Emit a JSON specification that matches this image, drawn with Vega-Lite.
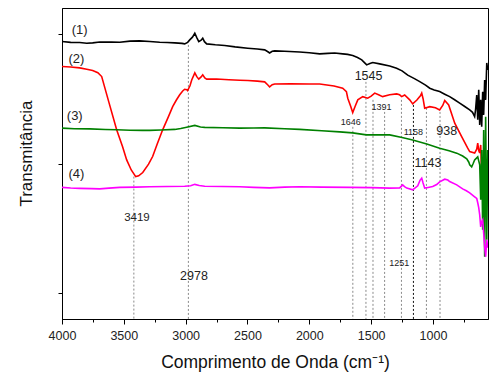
{
  "$schema": "https://vega.github.io/schema/vega-lite/v6.json",
  "width": 426,
  "height": 311,
  "autosize": {"type": "none"},
  "padding": {"left": 62, "top": 8, "right": 1, "bottom": 55},
  "background": "white",
  "config": {
    "view": {"stroke": "black", "strokeWidth": 1},
    "font": "Liberation Sans",
    "axis": {"domainColor": "black", "tickColor": "black", "labelColor": "#222", "titleColor": "#111", "grid": false, "titleFontWeight": "normal", "labelFont": "Liberation Sans", "titleFont": "Liberation Sans"}
  },
  "datasets": {
    "spectra": [
      {"s":"1","w":4000,"t":1.941},{"s":"1","w":3930,"t":1.935},{"s":"1","w":3857,"t":1.934},{"s":"1","w":3800,"t":1.928},{"s":"1","w":3752,"t":1.931},{"s":"1","w":3695,"t":1.938},{"s":"1","w":3600,"t":1.937},{"s":"1","w":3533,"t":1.936},{"s":"1","w":3450,"t":1.944},{"s":"1","w":3372,"t":1.946},{"s":"1","w":3290,"t":1.941},{"s":"1","w":3210,"t":1.936},{"s":"1","w":3150,"t":1.934},{"s":"1","w":3088,"t":1.931},{"s":"1","w":3030,"t":1.927},{"s":"1","w":3008,"t":1.923},{"s":"1","w":2984,"t":1.935},{"s":"1","w":2967,"t":1.954},{"s":"1","w":2945,"t":1.975},{"s":"1","w":2926,"t":2.005},{"s":"1","w":2910,"t":1.972},{"s":"1","w":2894,"t":1.941},{"s":"1","w":2875,"t":1.952},{"s":"1","w":2862,"t":1.967},{"s":"1","w":2848,"t":1.94},{"s":"1","w":2830,"t":1.923},{"s":"1","w":2760,"t":1.916},{"s":"1","w":2684,"t":1.911},{"s":"1","w":2600,"t":1.9},{"s":"1","w":2498,"t":1.89},{"s":"1","w":2420,"t":1.884},{"s":"1","w":2361,"t":1.877},{"s":"1","w":2335,"t":1.862},{"s":"1","w":2321,"t":1.853},{"s":"1","w":2300,"t":1.866},{"s":"1","w":2280,"t":1.869},{"s":"1","w":2200,"t":1.866},{"s":"1","w":2078,"t":1.861},{"s":"1","w":2000,"t":1.855},{"s":"1","w":1916,"t":1.846},{"s":"1","w":1850,"t":1.85},{"s":"1","w":1795,"t":1.853},{"s":"1","w":1730,"t":1.846},{"s":"1","w":1690,"t":1.842},{"s":"1","w":1649,"t":1.833},{"s":"1","w":1610,"t":1.818},{"s":"1","w":1576,"t":1.8},{"s":"1","w":1550,"t":1.775},{"s":"1","w":1536,"t":1.761},{"s":"1","w":1510,"t":1.772},{"s":"1","w":1487,"t":1.779},{"s":"1","w":1431,"t":1.769},{"s":"1","w":1350,"t":1.753},{"s":"1","w":1294,"t":1.735},{"s":"1","w":1250,"t":1.715},{"s":"1","w":1204,"t":1.682},{"s":"1","w":1150,"t":1.655},{"s":"1","w":1107,"t":1.632},{"s":"1","w":1060,"t":1.605},{"s":"1","w":1026,"t":1.581},{"s":"1","w":990,"t":1.568},{"s":"1","w":946,"t":1.555},{"s":"1","w":905,"t":1.535},{"s":"1","w":865,"t":1.516},{"s":"1","w":825,"t":1.492},{"s":"1","w":784,"t":1.466},{"s":"1","w":740,"t":1.438},{"s":"1","w":703,"t":1.414},{"s":"1","w":680,"t":1.395},{"s":"1","w":663,"t":1.362},{"s":"1","w":655,"t":1.42},{"s":"1","w":646,"t":1.529},{"s":"1","w":638,"t":1.337},{"s":"1","w":630,"t":1.568},{"s":"1","w":622,"t":1.298},{"s":"1","w":614,"t":1.491},{"s":"1","w":606,"t":1.283},{"s":"1","w":598,"t":1.553},{"s":"1","w":590,"t":1.375},{"s":"1","w":582,"t":1.645},{"s":"1","w":574,"t":1.491},{"s":"1","w":565,"t":1.776},{"s":"1","w":557,"t":1.722},

      {"s":"2","w":4000,"t":1.748},{"s":"2","w":3930,"t":1.745},{"s":"2","w":3857,"t":1.738},{"s":"2","w":3800,"t":1.728},{"s":"2","w":3752,"t":1.717},{"s":"2","w":3710,"t":1.7},{"s":"2","w":3679,"t":1.671},{"s":"2","w":3620,"t":1.47},{"s":"2","w":3558,"t":1.26},{"s":"2","w":3510,"t":1.13},{"s":"2","w":3477,"t":1.028},{"s":"2","w":3440,"t":0.95},{"s":"2","w":3404,"t":0.899},{"s":"2","w":3380,"t":0.905},{"s":"2","w":3347,"t":0.93},{"s":"2","w":3300,"t":0.995},{"s":"2","w":3267,"t":1.054},{"s":"2","w":3230,"t":1.15},{"s":"2","w":3186,"t":1.26},{"s":"2","w":3140,"t":1.36},{"s":"2","w":3105,"t":1.439},{"s":"2","w":3075,"t":1.49},{"s":"2","w":3048,"t":1.53},{"s":"2","w":3024,"t":1.56},{"s":"2","w":3008,"t":1.573},{"s":"2","w":2990,"t":1.57},{"s":"2","w":2984,"t":1.563},{"s":"2","w":2965,"t":1.6},{"s":"2","w":2951,"t":1.645},{"s":"2","w":2926,"t":1.699},{"s":"2","w":2910,"t":1.67},{"s":"2","w":2894,"t":1.651},{"s":"2","w":2875,"t":1.668},{"s":"2","w":2862,"t":1.684},{"s":"2","w":2845,"t":1.66},{"s":"2","w":2830,"t":1.651},{"s":"2","w":2750,"t":1.652},{"s":"2","w":2650,"t":1.646},{"s":"2","w":2563,"t":1.642},{"s":"2","w":2498,"t":1.64},{"s":"2","w":2420,"t":1.636},{"s":"2","w":2361,"t":1.63},{"s":"2","w":2335,"t":1.606},{"s":"2","w":2321,"t":1.591},{"s":"2","w":2300,"t":1.608},{"s":"2","w":2280,"t":1.614},{"s":"2","w":2150,"t":1.616},{"s":"2","w":2000,"t":1.614},{"s":"2","w":1916,"t":1.614},{"s":"2","w":1800,"t":1.598},{"s":"2","w":1730,"t":1.581},{"s":"2","w":1700,"t":1.555},{"s":"2","w":1689,"t":1.504},{"s":"2","w":1665,"t":1.44},{"s":"2","w":1649,"t":1.393},{"s":"2","w":1630,"t":1.44},{"s":"2","w":1608,"t":1.491},{"s":"2","w":1568,"t":1.516},{"s":"2","w":1528,"t":1.504},{"s":"2","w":1500,"t":1.52},{"s":"2","w":1471,"t":1.543},{"s":"2","w":1440,"t":1.53},{"s":"2","w":1407,"t":1.516},{"s":"2","w":1350,"t":1.53},{"s":"2","w":1294,"t":1.537},{"s":"2","w":1270,"t":1.53},{"s":"2","w":1253,"t":1.516},{"s":"2","w":1229,"t":1.529},{"s":"2","w":1188,"t":1.491},{"s":"2","w":1164,"t":1.46},{"s":"2","w":1130,"t":1.49},{"s":"2","w":1100,"t":1.525},{"s":"2","w":1091,"t":1.543},{"s":"2","w":1080,"t":1.5},{"s":"2","w":1067,"t":1.427},{"s":"2","w":1026,"t":1.439},{"s":"2","w":980,"t":1.43},{"s":"2","w":946,"t":1.414},{"s":"2","w":920,"t":1.45},{"s":"2","w":905,"t":1.486},{"s":"2","w":873,"t":1.452},{"s":"2","w":824,"t":1.311},{"s":"2","w":768,"t":1.208},{"s":"2","w":719,"t":1.118},{"s":"2","w":703,"t":1.092},{"s":"2","w":663,"t":1.08},{"s":"2","w":646,"t":1.11},{"s":"2","w":638,"t":1.157},{"s":"2","w":630,"t":1.1},{"s":"2","w":622,"t":1.081},{"s":"2","w":614,"t":1.143},{"s":"2","w":606,"t":0.912},{"s":"2","w":598,"t":0.72},{"s":"2","w":590,"t":1.028},{"s":"2","w":582,"t":0.697},{"s":"2","w":574,"t":0.95},{"s":"2","w":565,"t":0.85},

      {"s":"3","w":4000,"t":1.273},{"s":"3","w":3900,"t":1.268},{"s":"3","w":3776,"t":1.267},{"s":"3","w":3650,"t":1.262},{"s":"3","w":3558,"t":1.26},{"s":"3","w":3450,"t":1.257},{"s":"3","w":3350,"t":1.256},{"s":"3","w":3291,"t":1.256},{"s":"3","w":3200,"t":1.259},{"s":"3","w":3088,"t":1.263},{"s":"3","w":3040,"t":1.27},{"s":"3","w":2992,"t":1.28},{"s":"3","w":2926,"t":1.294},{"s":"3","w":2880,"t":1.282},{"s":"3","w":2846,"t":1.279},{"s":"3","w":2700,"t":1.276},{"s":"3","w":2563,"t":1.273},{"s":"3","w":2450,"t":1.274},{"s":"3","w":2361,"t":1.275},{"s":"3","w":2200,"t":1.268},{"s":"3","w":2078,"t":1.263},{"s":"3","w":1900,"t":1.253},{"s":"3","w":1754,"t":1.244},{"s":"3","w":1650,"t":1.236},{"s":"3","w":1539,"t":1.221},{"s":"3","w":1450,"t":1.222},{"s":"3","w":1350,"t":1.221},{"s":"3","w":1250,"t":1.2},{"s":"3","w":1164,"t":1.182},{"s":"3","w":1050,"t":1.15},{"s":"3","w":946,"t":1.118},{"s":"3","w":870,"t":1.098},{"s":"3","w":808,"t":1.08},{"s":"3","w":760,"t":1.058},{"s":"3","w":727,"t":1.036},{"s":"3","w":710,"t":1.01},{"s":"3","w":703,"t":0.99},{"s":"3","w":687,"t":0.974},{"s":"3","w":675,"t":1.0},{"s":"3","w":663,"t":1.028},{"s":"3","w":650,"t":1.04},{"s":"3","w":638,"t":1.051},{"s":"3","w":630,"t":1.02},{"s":"3","w":622,"t":0.99},{"s":"3","w":614,"t":0.72},{"s":"3","w":606,"t":1.105},{"s":"3","w":598,"t":0.488},{"s":"3","w":590,"t":1.259},{"s":"3","w":582,"t":0.28},{"s":"3","w":574,"t":1.36},{"s":"3","w":565,"t":0.411},{"s":"3","w":557,"t":1.105},

      {"s":"4","w":4000,"t":0.816},{"s":"4","w":3930,"t":0.811},{"s":"4","w":3857,"t":0.808},{"s":"4","w":3760,"t":0.806},{"s":"4","w":3695,"t":0.804},{"s":"4","w":3620,"t":0.81},{"s":"4","w":3533,"t":0.816},{"s":"4","w":3400,"t":0.818},{"s":"4","w":3291,"t":0.82},{"s":"4","w":3150,"t":0.822},{"s":"4","w":3008,"t":0.824},{"s":"4","w":2960,"t":0.828},{"s":"4","w":2926,"t":0.839},{"s":"4","w":2890,"t":0.83},{"s":"4","w":2846,"t":0.824},{"s":"4","w":2700,"t":0.822},{"s":"4","w":2563,"t":0.82},{"s":"4","w":2450,"t":0.816},{"s":"4","w":2321,"t":0.812},{"s":"4","w":2200,"t":0.818},{"s":"4","w":2078,"t":0.82},{"s":"4","w":1900,"t":0.818},{"s":"4","w":1673,"t":0.816},{"s":"4","w":1500,"t":0.814},{"s":"4","w":1350,"t":0.81},{"s":"4","w":1269,"t":0.812},{"s":"4","w":1245,"t":0.835},{"s":"4","w":1230,"t":0.822},{"s":"4","w":1212,"t":0.81},{"s":"4","w":1164,"t":0.797},{"s":"4","w":1123,"t":0.828},{"s":"4","w":1105,"t":0.87},{"s":"4","w":1091,"t":0.887},{"s":"4","w":1080,"t":0.85},{"s":"4","w":1067,"t":0.81},{"s":"4","w":1040,"t":0.815},{"s":"4","w":1002,"t":0.822},{"s":"4","w":970,"t":0.838},{"s":"4","w":946,"t":0.858},{"s":"4","w":905,"t":0.879},{"s":"4","w":880,"t":0.872},{"s":"4","w":865,"t":0.861},{"s":"4","w":808,"t":0.835},{"s":"4","w":760,"t":0.804},{"s":"4","w":730,"t":0.79},{"s":"4","w":703,"t":0.774},{"s":"4","w":663,"t":0.743},{"s":"4","w":646,"t":0.73},{"s":"4","w":638,"t":0.697},{"s":"4","w":630,"t":0.66},{"s":"4","w":622,"t":0.604},{"s":"4","w":614,"t":0.511},{"s":"4","w":606,"t":0.55},{"s":"4","w":598,"t":0.565},{"s":"4","w":590,"t":0.465},{"s":"4","w":582,"t":0.357},{"s":"4","w":574,"t":0.28},{"s":"4","w":565,"t":0.411},{"s":"4","w":557,"t":0.35}
    ],
    "peaks": [
      {"w":3419,"top":0.899,"kind":"light"},
      {"w":2978,"top":1.915,"kind":"light"},
      {"w":1648,"top":1.283,"kind":"light"},
      {"w":1542,"top":1.63,"kind":"light"},
      {"w":1485,"top":1.491,"kind":"light"},
      {"w":1391,"top":1.398,"kind":"light"},
      {"w":1255,"top":1.491,"kind":"light"},
      {"w":1158,"top":1.452,"kind":"dark"},
      {"w":1053,"top":1.429,"kind":"light"},
      {"w":943,"top":1.398,"kind":"light"}
    ],
    "labels": [
      {"text":"(1)","w":3857,"v":2.031,"kind":"curve"},
      {"text":"(2)","w":3884,"v":1.809,"kind":"curve"},
      {"text":"(3)","w":3897,"v":1.368,"kind":"curve"},
      {"text":"(4)","w":3884,"v":0.92,"kind":"curve"},
      {"text":"3419","w":3394,"v":0.581,"kind":"mid"},
      {"text":"2978","w":2933,"v":0.128,"kind":"big"},
      {"text":"1545","w":1521,"v":1.676,"kind":"big"},
      {"text":"938","w":889,"v":1.252,"kind":"big"},
      {"text":"1143","w":1040,"v":1.003,"kind":"big"},
      {"text":"1646","w":1664,"v":1.324,"kind":"small"},
      {"text":"1391","w":1417,"v":1.435,"kind":"small"},
      {"text":"1158","w":1158,"v":1.246,"kind":"small"},
      {"text":"1251","w":1272,"v":0.236,"kind":"small"}
    ]
  },
  "encoding": {
    "x": {
      "field": "w", "type": "quantitative",
      "scale": {"domain": [555, 4000], "reverse": true, "nice": false, "zero": false},
      "axis": {
        "title": "Comprimento de Onda (cm⁻¹)",
        "values": [4000, 3750, 3500, 3250, 3000, 2750, 2500, 2250, 2000, 1750, 1500, 1250, 1000, 750],
        "labelExpr": "datum.value % 500 === 0 ? datum.value : ''",
        "tickSize": {"condition": {"test": "datum.value % 500 === 0", "value": 5}, "value": 3},
        "labelFontSize": 12.5,
        "labelPadding": 5,
        "labelOverlap": false,
        "labelFlush": false,
        "titleFontSize": 17.5,
        "titlePadding": 12
      }
    }
  },
  "layer": [
    {
      "data": {"name": "peaks"},
      "transform": [{"filter": "datum.kind === 'light'"}],
      "mark": {"type": "rule", "color": "#8a8a8a", "strokeWidth": 1, "strokeDash": [2, 2]},
      "encoding": {
        "y": {"field": "top", "type": "quantitative"},
        "y2": {"datum": -0.2}
      }
    },
    {
      "data": {"name": "peaks"},
      "transform": [{"filter": "datum.kind === 'dark'"}],
      "mark": {"type": "rule", "color": "#111111", "strokeWidth": 1, "strokeDash": [2, 2]},
      "encoding": {
        "y": {"field": "top", "type": "quantitative"},
        "y2": {"datum": -0.2}
      }
    },
    {
      "data": {"name": "spectra"},
      "mark": {"type": "line", "strokeWidth": 1.6, "clip": true},
      "encoding": {
        "y": {
          "field": "t", "type": "quantitative",
          "scale": {"domain": [-0.2, 2.2], "nice": false, "zero": false},
          "axis": {"title": "Transmitância", "values": [0, 1, 2], "labels": false, "tickSize": 4, "titleFontSize": 17, "titlePadding": 22, "titleY": 145}
        },
        "color": {"field": "s", "type": "nominal", "scale": {"domain": ["1", "2", "3", "4"], "range": ["#000000", "#ff0000", "#008000", "#ff00ff"]}, "legend": null},
        "order": {"field": "w", "type": "quantitative", "sort": "descending"}
      }
    },
    {
      "data": {"name": "labels"},
      "transform": [{"filter": "datum.kind === 'curve'"}],
      "mark": {"type": "text", "fontSize": 13, "color": "#222", "align": "center", "baseline": "middle"},
      "encoding": {"y": {"field": "v", "type": "quantitative"}, "text": {"field": "text"}}
    },
    {
      "data": {"name": "labels"},
      "transform": [{"filter": "datum.kind === 'big'"}],
      "mark": {"type": "text", "fontSize": 12.5, "color": "#222", "align": "center", "baseline": "middle"},
      "encoding": {"y": {"field": "v", "type": "quantitative"}, "text": {"field": "text"}}
    },
    {
      "data": {"name": "labels"},
      "transform": [{"filter": "datum.kind === 'mid'"}],
      "mark": {"type": "text", "fontSize": 11.5, "color": "#222", "align": "center", "baseline": "middle"},
      "encoding": {"y": {"field": "v", "type": "quantitative"}, "text": {"field": "text"}}
    },
    {
      "data": {"name": "labels"},
      "transform": [{"filter": "datum.kind === 'small'"}],
      "mark": {"type": "text", "fontSize": 9, "color": "#222", "align": "center", "baseline": "middle"},
      "encoding": {"y": {"field": "v", "type": "quantitative"}, "text": {"field": "text"}}
    }
  ]
}
